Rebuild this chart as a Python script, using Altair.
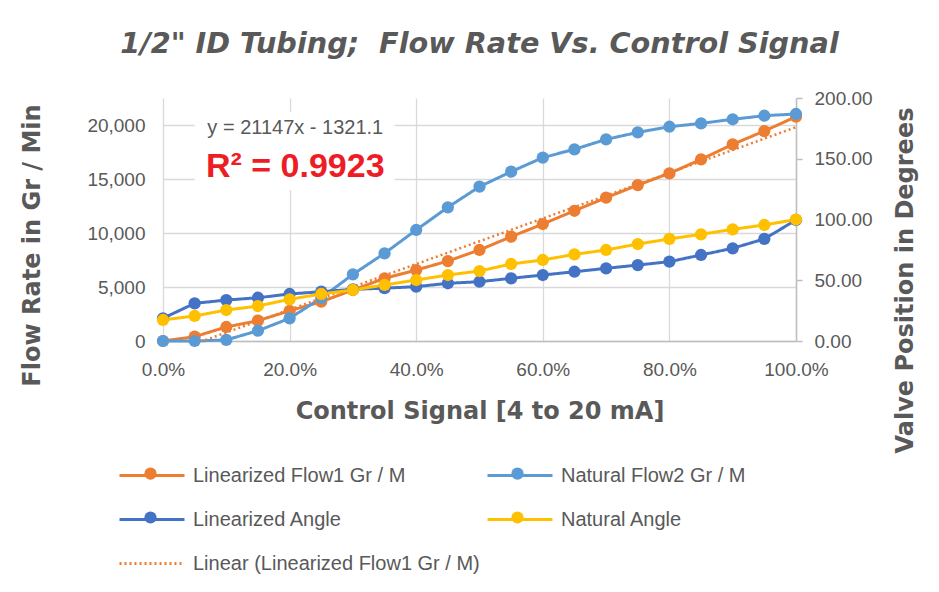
import altair as alt
import pandas as pd

# ---------------- data ----------------
signal = [0.00, 0.05, 0.10, 0.15, 0.20, 0.25, 0.30, 0.35, 0.40, 0.45, 0.50,
          0.55, 0.60, 0.65, 0.70, 0.75, 0.80, 0.85, 0.90, 0.95, 1.00]
lin_flow1 = [0, 400, 1300, 1880, 2800, 3640, 4720, 5800, 6570, 7400, 8430,
             9660, 10830, 12060, 13270, 14440, 15520, 16820, 18210, 19440, 20770]
nat_flow2 = [0, 0, 100, 950, 2100, 3980, 6170, 8120, 10280, 12380, 14290,
             15680, 16980, 17750, 18670, 19320, 19840, 20150, 20530, 20860, 21020]
lin_angle = [18.7, 31.0, 33.7, 35.6, 38.7, 40.6, 42.5, 43.5, 44.7, 47.5, 48.8,
             51.6, 54.3, 57.0, 59.8, 62.5, 65.3, 70.8, 76.3, 84.0, 99.6]
nat_angle = [17.3, 20.6, 25.5, 28.8, 34.3, 38.7, 42.0, 46.1, 50.2, 54.3, 57.6,
             63.4, 66.7, 71.3, 74.9, 79.8, 84.0, 87.8, 91.9, 95.5, 100.0]

series_names = ["Linearized Flow1 Gr / M", "Natural Flow2 Gr / M",
                "Linearized Angle", "Natural Angle",
                "Linear (Linearized Flow1 Gr / M)"]
series_colors = ["#ED7D31", "#5B9BD5", "#4472C4", "#FFC000", "#ED7D31"]
series_dashes = [[1, 0], [1, 0], [1, 0], [1, 0], [2, 3]]

x_ticks = [0.0, 0.2, 0.4, 0.6, 0.8, 1.0]
flow_ticks = [0, 5000, 10000, 15000, 20000]
angle_ticks = [0, 50, 100, 150, 200]

title_text = "1/2\" ID Tubing;\u00a0 Flow Rate Vs. Control Signal"
eq_text = "y = 21147x - 1321.1"
r2_text = "R\u00b2 = 0.9923"

# ---------------- tables ----------------
flow_df = pd.DataFrame({
    "signal": signal * 2,
    "value": lin_flow1 + nat_flow2,
    "series": [series_names[0]] * len(signal) + [series_names[1]] * len(signal),
})
flow_df["series2"] = flow_df["series"]
trend_df = pd.DataFrame({"signal": signal, "value": lin_flow1})
angle_df = pd.DataFrame({
    "signal": signal * 2,
    "value": lin_angle + nat_angle,
    "series": [series_names[2]] * len(signal) + [series_names[3]] * len(signal),
})
angle_df["series2"] = angle_df["series"]

ann_box = pd.DataFrame({"x1": [0.05], "x2": [0.366], "y1": [13980], "y2": [21200]})
ann_eq = pd.DataFrame({"x": [0.209], "y": [19720], "t": [eq_text]})
ann_r2 = pd.DataFrame({"x": [0.209], "y": [16110], "t": [r2_text]})

FONT = "Liberation Sans"
TFONT = "DejaVu Sans"
GRAY = "#595959"

color_scale = alt.Scale(domain=series_names, range=series_colors)
dash_scale = alt.Scale(domain=series_names, range=series_dashes)
fill_scale = alt.Scale(domain=series_names[:4], range=series_colors[:4])

line_legend = alt.Legend(
    title=None, orient="none", legendX=-45, legendY=343.5, columns=2,
    direction="horizontal",
    symbolType="stroke", symbolSize=4225, symbolStrokeWidth=3,
    labelFontSize=20, labelFont=FONT, labelColor=GRAY, labelOffset=7,
    columnPadding=1, rowPadding=-23, labelLimit=500)
point_legend = alt.Legend(
    title=None, orient="none", legendX=-19, legendY=369, columns=2,
    direction="horizontal",
    symbolType="circle", symbolSize=150, symbolStrokeWidth=0,
    labelExpr="''", labelOffset=0, columnPadding=354, rowPadding=31)

x_enc = alt.X("signal:Q", scale=alt.Scale(domain=[0, 1], nice=False),
              axis=alt.Axis(values=x_ticks, format=".1%",
                            title="Control Signal [4 to 20 mA]",
                            titleFont=TFONT, titleFontSize=24, titleFontWeight="bold",
                            titleColor=GRAY, titleY=70, titleBaseline="middle",
                            labelFont=FONT, labelFontSize=19, labelColor=GRAY,
                            labelPadding=19, labelFlush=False, ticks=False,
                            domainColor="#bfbfbf", domainWidth=1.5,
                            grid=True, gridColor="#d9d9d9", gridWidth=1.3))

y_flow = alt.Y("value:Q", scale=alt.Scale(domain=[0, 22500], nice=False, zero=True),
               axis=alt.Axis(values=flow_ticks, format=",d",
                             title="Flow Rate in Gr / Min",
                             titleFont=TFONT, titleFontSize=24, titleFontWeight="bold",
                             titleColor=GRAY, titleAngle=270, titleX=-131, titleY=147,
                             titleAlign="center", titleBaseline="middle",
                             labelFont=FONT, labelFontSize=19, labelColor=GRAY,
                             labelPadding=18, ticks=False, domain=False,
                             grid=True, gridColor="#d9d9d9", gridWidth=1.3))

y_angle = alt.Y("value:Q", scale=alt.Scale(domain=[0, 200], nice=False),
                axis=alt.Axis(values=angle_ticks, format=".2f", orient="right",
                              title="Valve Position in Degrees",
                              titleFont=TFONT, titleFontSize=24, titleFontWeight="bold",
                              titleColor=GRAY, titleAngle=270, titleX=109, titleY=182,
                              titleAlign="center", titleBaseline="middle",
                              labelFont=FONT, labelFontSize=19, labelColor=GRAY,
                              labelPadding=12, ticks=True, tickSize=6,
                              tickColor="#bfbfbf", tickWidth=1.5,
                              domain=True, domainColor="#bfbfbf", domainWidth=1.5,
                              grid=False))

color_enc = alt.Color("series:N", scale=color_scale, legend=line_legend)
dash_enc = alt.StrokeDash("series:N", scale=dash_scale, legend=line_legend)
fill_enc = alt.Fill("series2:N", scale=fill_scale, legend=point_legend)

box = alt.Chart(ann_box).mark_rect(color="white").encode(
    x=alt.X("x1:Q"), x2="x2:Q", y=alt.Y("y1:Q"), y2="y2:Q")
eq = alt.Chart(ann_eq).mark_text(
    font=FONT, fontSize=20, color=GRAY, baseline="middle", align="center"
).encode(x="x:Q", y="y:Q", text="t:N")
r2 = alt.Chart(ann_r2).mark_text(
    font=FONT, fontSize=34, fontWeight="bold", color="#EE1C25",
    baseline="middle", align="center"
).encode(x="x:Q", y="y:Q", text="t:N")

flow_lines = alt.Chart(flow_df).mark_line(strokeWidth=3).encode(
    x=x_enc, y=y_flow, color=color_enc, strokeDash=dash_enc)
flow_pts = alt.Chart(flow_df).mark_circle(size=150, opacity=1).encode(
    x=x_enc, y=y_flow, fill=fill_enc)
trend = alt.Chart(trend_df).transform_regression(
    "signal", "value", method="linear", extent=[0, 1]
).transform_calculate(series=f"'{series_names[4]}'").mark_line(
    strokeWidth=2.5, clip=True
).encode(x=x_enc, y=y_flow, color=color_enc, strokeDash=dash_enc)

angle_lines = alt.Chart(angle_df).mark_line(strokeWidth=3).encode(
    x=x_enc, y=y_angle, color=color_enc, strokeDash=dash_enc)
angle_pts = alt.Chart(angle_df).mark_circle(size=150, opacity=1).encode(
    x=x_enc, y=y_angle, fill=fill_enc)

left = alt.layer(box, eq, r2, flow_lines, flow_pts, trend)
right = alt.layer(angle_lines, angle_pts)

chart = alt.layer(left, right).resolve_scale(y="independent").properties(
    width=633, height=243,
    title=alt.Title(title_text,
                    font=TFONT, fontSize=28.7,
                    fontStyle="italic", fontWeight="bold", color=GRAY,
                    anchor="middle", offset=30),
    autosize=alt.AutoSizeParams(type="none"),
    padding={"left": 155, "top": 90, "right": 135, "bottom": 235},
).configure_view(stroke=None)

chart.save("out.html", embed_options={"renderer": "svg", "actions": False})
